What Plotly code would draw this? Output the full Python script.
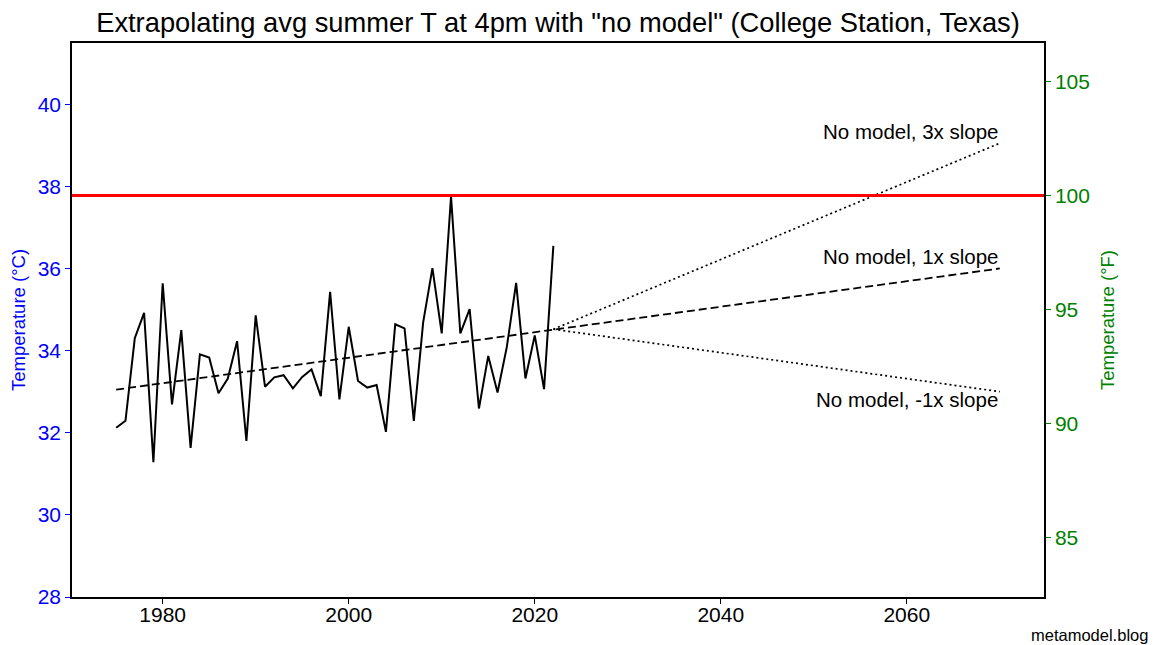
import plotly.graph_objects as go

# ---- data ----
years = list(range(1975, 2023))
temps_c = [32.12, 32.29, 34.30, 34.92, 31.28, 35.64, 32.69, 34.50, 31.63, 33.91,
           33.83, 32.96, 33.32, 34.23, 31.80, 34.86, 33.12, 33.35, 33.40, 33.08,
           33.36, 33.54, 32.89, 35.43, 32.81, 34.58, 33.26, 33.10, 33.16, 32.02,
           34.64, 34.54, 32.29, 34.68, 36.01, 34.42, 37.75, 34.42, 35.01, 32.59,
           33.87, 32.98, 34.09, 35.65, 33.32, 34.37, 33.06, 36.55]

trend_years = [1975, 2070]
trend_values = [33.05, 36.0]

ext_years = [2022, 2070]
ext_3x = [34.52, 39.05]
ext_neg1x = [34.52, 33.0]

threshold_f = 100.0
threshold_c = (threshold_f - 32) * 5 / 9

xticks = [1980, 2000, 2020, 2040, 2060]
yticks_c = [28, 30, 32, 34, 36, 38, 40]
yticks_f = [85, 90, 95, 100, 105]

x_range = [1970.25, 2074.75]
y_range_c = [28.0, 41.49]
y_range_f = [c * 9 / 5 + 32 for c in y_range_c]

FONT = "Liberation Sans, Arial, sans-serif"

fig = go.Figure()

fig.add_trace(go.Scatter(x=years, y=temps_c, mode="lines",
                         line=dict(color="black", width=2), showlegend=False))
fig.add_trace(go.Scatter(x=trend_years, y=trend_values, mode="lines",
                         line=dict(color="black", width=1.8, dash="8px,4px"),
                         showlegend=False))
fig.add_trace(go.Scatter(x=ext_years, y=ext_3x, mode="lines",
                         line=dict(color="black", width=1.7, dash="2px,3px"),
                         showlegend=False))
fig.add_trace(go.Scatter(x=ext_years, y=ext_neg1x, mode="lines",
                         line=dict(color="black", width=1.7, dash="2px,3px"),
                         showlegend=False))
# invisible trace to activate the right axis
fig.add_trace(go.Scatter(x=[x_range[0]], y=[y_range_f[0]], yaxis="y2", mode="markers",
                         marker=dict(opacity=0), showlegend=False, hoverinfo="skip"))

fig.add_hline(y=threshold_c, line=dict(color="red", width=3))

fig.add_annotation(x=ext_years[1], y=ext_3x[1], text="No model, 3x slope", showarrow=False,
                   xanchor="right", yanchor="bottom", yshift=-2,
                   font=dict(family=FONT, size=20.5, color="black"))
fig.add_annotation(x=ext_years[1], y=trend_values[1], text="No model, 1x slope", showarrow=False,
                   xanchor="right", yanchor="bottom", yshift=-2,
                   font=dict(family=FONT, size=20.5, color="black"))
fig.add_annotation(x=ext_years[1], y=ext_neg1x[1], text="No model, -1x slope", showarrow=False,
                   xanchor="right", yanchor="top", yshift=6,
                   font=dict(family=FONT, size=20.5, color="black"))
fig.add_annotation(x=1.1094, y=-0.0686, xref="paper", yref="paper", text="metamodel.blog",
                   showarrow=False, xanchor="right", yanchor="middle",
                   font=dict(family=FONT, size=16.5, color="black"))

# the page body adds an 8px offset; the figure is sized to compensate
fig.update_layout(
    width=1148, height=637,
    margin=dict(l=64, r=112, t=35, b=48, autoexpand=False),
    paper_bgcolor="white", plot_bgcolor="white",
    font=dict(family=FONT, color="black"),
    title=dict(text='Extrapolating avg summer T at 4pm with "no model" (College Station, Texas)',
               x=0.5, xref="paper", xanchor="center", y=1 - 14 / 637, yref="container",
               yanchor="middle", font=dict(family=FONT, size=27.3, color="black")),
    xaxis=dict(range=x_range, tickvals=xticks, showgrid=False, zeroline=False,
               showline=True, linecolor="black", linewidth=1.5, mirror=True,
               ticks="outside", ticklen=5, tickwidth=1.2, tickcolor="black", automargin=False,
               ticklabelstandoff=-7,
               tickfont=dict(family=FONT, size=21, color="black")),
    yaxis=dict(range=y_range_c, tickvals=yticks_c, showgrid=False, zeroline=False,
               showline=True, linecolor="black", linewidth=1.5, automargin=False,
               ticks="outside", ticklen=5, tickwidth=1.2, tickcolor="blue",
               tickfont=dict(family=FONT, size=21, color="blue"),
               title=dict(text="Temperature (°C)", standoff=12,
                          font=dict(family=FONT, size=18.5, color="blue"))),
    yaxis2=dict(range=y_range_f, tickvals=yticks_f, overlaying="y", side="right",
                showgrid=False, zeroline=False, automargin=False,
                showline=True, linecolor="black", linewidth=1.5,
                ticks="outside", ticklen=5, tickwidth=1.2, tickcolor="green",
                tickfont=dict(family=FONT, size=21, color="green"),
                title=dict(text="Temperature (°F)", standoff=12,
                           font=dict(family=FONT, size=18.5, color="green"))),
)

fig.write_html("out.html")
